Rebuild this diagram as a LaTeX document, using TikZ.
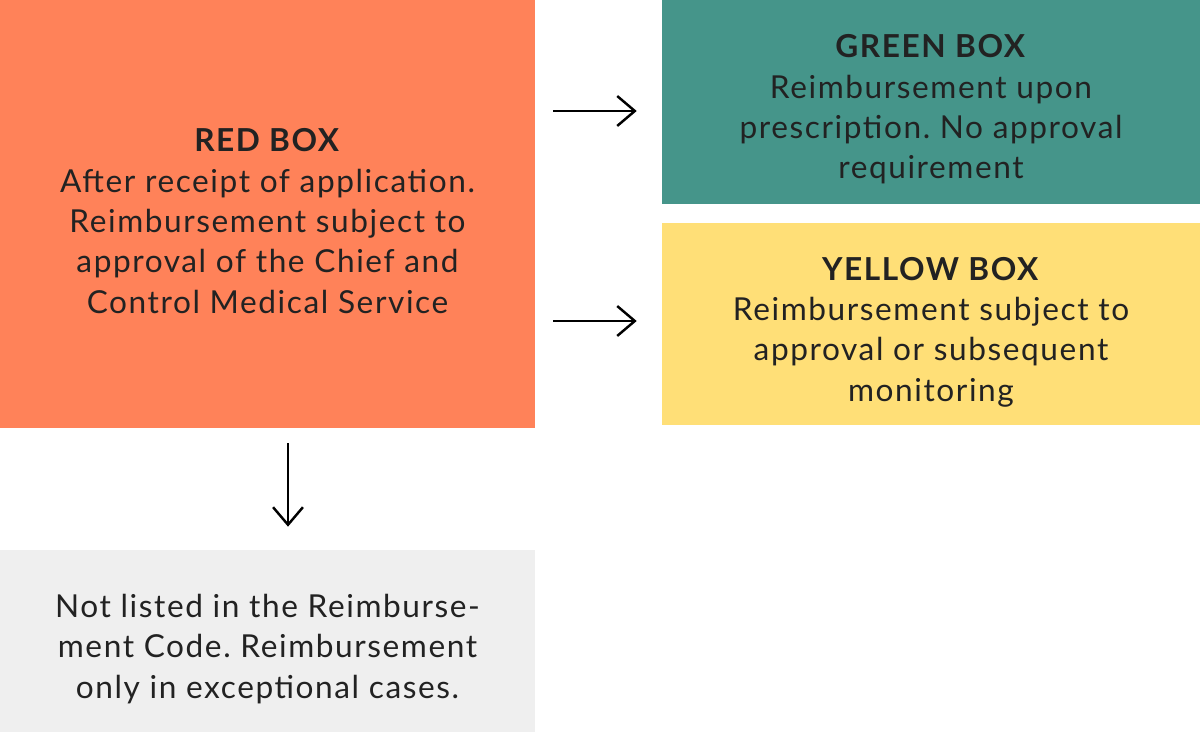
\documentclass[tikz,border=0pt]{standalone}
\usepackage{fontspec}
\setmainfont{Lato}[LetterSpace=5]
\frenchspacing
\usetikzlibrary{arrows.meta, positioning, calc}
\tikzset{>={Straight Barb[length=10pt, width=17pt]}}
\definecolor{boxred}{HTML}{FF8259}
\definecolor{boxgreen}{HTML}{45958A}
\definecolor{boxyellow}{HTML}{FFDF77}
\definecolor{boxgrey}{HTML}{EFEFEF}
\definecolor{ink}{HTML}{222222}
\tikzset{
  box/.style={draw=none, inner sep=0pt, minimum width=10.7cm},
  txt/.style={inner sep=0pt, align=center, text=ink,
    font=\fontsize{18}{23}\selectfont},
  flow/.style={->, line width=1.4pt, black}
}

\begin{document}
\begin{tikzpicture}[x=0.02cm, y=-0.02cm]

\useasboundingbox (0,0) rectangle (1200,739);

% Boxes
\node[box, fill=boxred, minimum height=8.56cm] (red) at (267.5,214) {};
\node[box, fill=boxgreen, minimum width=10.76cm, minimum height=4.08cm] (green) at (931,102) {};
\node[box, fill=boxyellow, minimum width=10.76cm, minimum height=4.04cm] (yellow) at (931,324) {};
\node[box, fill=boxgrey, minimum height=3.64cm] (grey) at (267.5,641) {};

% Texts
\node[txt] (redlabel) at ([yshift=-0.14cm]red.center) {\textbf{RED BOX}\\After receipt of application.\\Reimbursement subject to\\approval of the Chief and\\Control Medical Service};
\node[txt] (greenlabel) at ([yshift=-0.15cm]green.center) {\textbf{GREEN BOX}\\Reimbursement upon\\prescription. No approval\\requirement};
\node[txt] (yellowlabel) at ([yshift=-0.16cm]yellow.center) {\textbf{YELLOW BOX}\\Reimbursement subject to\\approval or subsequent\\monitoring};
\node[txt] (greylabel) at ([yshift=-0.16cm]grey.center) {Not listed in the Reimburse-\\ment Code. Reimbursement\\only in exceptional cases.};

% Arrows
\draw[flow, shorten <=0.36cm, shorten >=0.5cm]
  ([yshift=-0.18cm]red.east |- green.west) -- ([yshift=-0.18cm]green.west);
\draw[flow, shorten <=0.36cm, shorten >=0.5cm]
  ([yshift=0.06cm]red.east |- yellow.west) -- ([yshift=0.06cm]yellow.west);
\draw[flow, shorten <=0.3cm, shorten >=0.46cm]
  ([xshift=0.41cm]red.south) -- ([xshift=0.41cm]grey.north);

\end{tikzpicture}
\end{document}
